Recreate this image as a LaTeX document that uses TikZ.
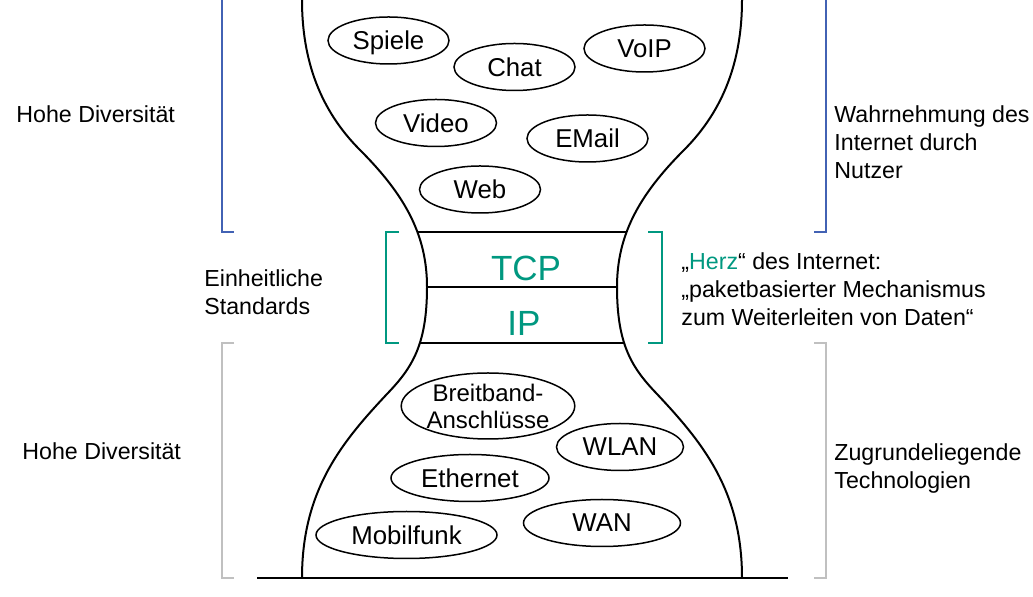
\documentclass[tikz,border=0pt]{standalone}
\usepackage{fontspec}
\setmainfont{Liberation Sans}
\usetikzlibrary{shapes.geometric}
\definecolor{nutzerblau}{RGB}{66, 98, 180}
\definecolor{herzgruen}{RGB}{0, 152, 128}
\definecolor{technikgrau}{RGB}{192, 192, 192}
\tikzset{
	dienst/.style={ellipse, draw, line width=0.75pt, inner sep=0pt, minimum width=60.5pt, minimum height=23.5pt, text depth=0pt, font=\fontsize{12.9}{14}\selectfont},
	seite/.style={anchor=west, align=left, inner sep=0pt, font=\fontsize{11.6}{14}\selectfont},
	schicht/.style={text=herzgruen, inner sep=0pt, font=\fontsize{17.5}{20}\selectfont},
	klammer/.style={line width=1pt},
	glas/.style={line width=1pt},
}
\begin{document}
\begin{tikzpicture}[x=0.5pt, y=-0.5pt]
		\useasboundingbox (0,0) rectangle (1033,597);
		
		\draw[klammer, nutzerblau] (222,-5) -- (222,232) -- (234,232);
		\draw[klammer, nutzerblau] (826,-5) -- (826,232) -- (814,232);
		\draw[klammer, herzgruen] (399,232) -- (386,232) -- (386,343) -- (399,343);
		\draw[klammer, herzgruen] (648,232) -- (662,232) -- (662,343) -- (648,343);
		\draw[klammer, technikgrau] (234,343) -- (222,343) -- (222,578) -- (234,578);
		\draw[klammer, technikgrau] (814,343) -- (826,343) -- (826,578) -- (814,578);
		
		\draw[glas] (302,-5) -- (302,0) .. controls (302,60) and (320,110) .. (360,150) .. controls (405,195) and (427,235) .. (427,287) .. controls (427,345) and (412,368) .. (387,394) .. controls (342,442) and (302,490) .. (302,578);
		\draw[glas] (742,-5) -- (742,0) .. controls (742,60) and (724,110) .. (684,150) .. controls (639,195) and (617,235) .. (617,287) .. controls (617,345) and (632,368) .. (657,394) .. controls (702,442) and (742,490) .. (742,578);
		\draw[glas] (417.5,232) -- (626.5,232);
		\draw[glas] (427,287) -- (617,287);
		\draw[glas] (419.5,343) -- (624.5,343);
		\draw[glas] (257,578) -- (788,578);
		
		\node[schicht] (tcp) at (526,268) {TCP};
		\node[schicht] (ip) at (524,323) {IP};
		
		\node[dienst] (spiele) at (388.5,40.5) {Spiele};
		\node[dienst] (chat) at (514.5,67) {Chat};
		\node[dienst] (voip) at (644.5,48.5) {VoIP};
		\node[dienst] (video) at (436,123) {Video};
		\node[dienst] (email) at (587.5,138.5) {EMail};
		\node[dienst] (web) at (480,189.5) {Web};
		
		\node[dienst, minimum width=85.5pt, minimum height=33pt, align=center, font=\fontsize{12}{13.5}\selectfont] (breitband) at (488,406) {Breitband-\\Anschlüsse};
		\node[dienst, minimum width=63.5pt] (wlan) at (620,447) {WLAN};
		\node[dienst, minimum width=79pt] (ethernet) at (470,478) {Ethernet};
		\node[dienst, minimum width=78.5pt] (wan) at (602,523) {WAN};
		\node[dienst, minimum width=90.5pt] (mobilfunk) at (406.5,535) {Mobilfunk};
		
		\node[seite] (vielfaltoben) at (16,114) {Hohe Diversität};
		\node[seite] (standards) at (204,292) {Einheitliche\\Standards};
		\node[seite] (vielfaltunten) at (22,451) {Hohe Diversität};
		\node[seite] (nutzer) at (834,142.5) {Wahrnehmung des\\Internet durch\\Nutzer};
		\node[seite] (herz) at (681,289) {„\textcolor{herzgruen}{Herz}“ des Internet:\\„paketbasierter Mechanismus\\zum Weiterleiten von Daten“};
		\node[seite] (technik) at (834,468.5) {Zugrundeliegende\\Technologien};
	\end{tikzpicture}
\end{document}
